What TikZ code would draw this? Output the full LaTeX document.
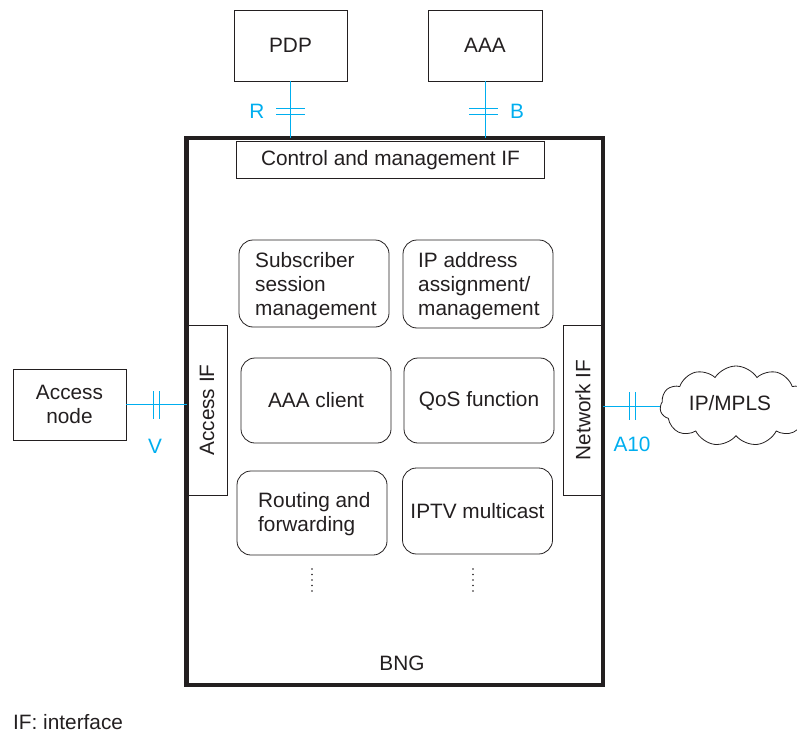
\documentclass[tikz,border=0pt]{standalone}
\usepackage{fontspec}
\setmainfont{Liberation Sans}
\usetikzlibrary{shapes.symbols}
\definecolor{ink}{HTML}{231F20}
\definecolor{ifcyan}{HTML}{00AEEF}
\begin{document}
\begin{tikzpicture}[x=1pt,y=-1pt,
  font=\fontsize{20.8}{24}\selectfont,
  box/.style={draw=ink,line width=0.8pt,inner sep=0pt,outer sep=0pt,text=ink,align=center},
  fbox/.style={box,rounded corners=14pt,minimum width=150pt,minimum height=86pt},
  ftext/.style={text=ink,align=left,anchor=west,inner sep=0pt},
  link/.style={draw=ifcyan,line width=0.9pt},
  lab/.style={text=ifcyan}]
\useasboundingbox (0,0) rectangle (797,733);
% external boxes
\node[box,minimum width=113pt,minimum height=71pt] (pdp) at (290.5,45.5) {PDP};
\node[box,minimum width=114pt,minimum height=71pt] (aaa) at (485,45.5) {AAA};
\node[box,minimum width=113pt,minimum height=71pt] (an) at (69.5,404.5) {Access\\node};
\node[cloud,draw=ink,line width=0.8pt,cloud puffs=11,cloud puff arc=115,aspect=1.9,
  minimum width=152pt,minimum height=80pt,inner sep=0pt] (cloud) at (736,406) {};
\node[text=ink] (mpls) at (730,403) {IP/MPLS};
% interface boxes
\node[box,minimum width=308pt,minimum height=37pt] (cm) at (390.5,160) {Control and management IF};
\node[box,minimum width=40pt,minimum height=170pt] (aif) at (207,410) {};
\node[rotate=90,text=ink] at (aif.center) {Access IF};
\node[box,minimum width=40pt,minimum height=170pt] (nif) at (583,410) {};
\node[rotate=90,text=ink] at (nif.center) {Network IF};
% BNG frame
\node[draw=ink,line width=4.5pt,inner sep=0pt,outer sep=0pt,
  minimum width=416.5pt,minimum height=547pt] (bng) at (394.75,411.5) {};
\node[text=ink] (bnglab) at (402,663) {BNG};
% function boxes
\node[fbox,minimum height=87pt] (sub) at (314,283.5) {};
\node[ftext] at (255,286) {Subscriber\\session\\management};
\node[fbox,minimum height=88pt] (ipa) at (478,284) {};
\node[ftext] at (418,286) {IP address\\assignment/\\management};
\node[fbox,minimum height=85pt] (aaac) at (316,400.5) {AAA client};
\node[fbox,minimum height=85pt] (qos) at (479,400.5) {QoS function};
\node[fbox,minimum height=84pt] (rtf) at (312,513) {};
\node[ftext] at (258,514) {Routing and\\forwarding};
\node[fbox,minimum height=86pt] (iptv) at (477.5,511) {IPTV multicast};
% dots
\foreach \x in {312,473}{
  \foreach \y in {569,574.5,580,585.5,591}{
    \fill[ink] (\x,\y) circle (0.9pt);
  }
}
% R reference point
\coordinate (rtop) at (pdp.south);
\coordinate (rbot) at (pdp.south |- bng.north);
\draw[link] (rtop) -- (rbot);
\draw[link] (276,108) -- (305,108) (276,114) -- (305,114);
\node[lab] (rlab) at (257,111) {R};
% B reference point
\coordinate (btop) at (aaa.south);
\coordinate (bbot) at (aaa.south |- bng.north);
\draw[link] (btop) -- (bbot);
\draw[link] (469,108) -- (498,108) (469,114) -- (498,114);
\node[lab] (blab) at (517,111) {B};
% V reference point
\coordinate (vend) at (bng.west |- an.east);
\draw[link] (an.east) -- (vend);
\draw[link] (153,391) -- (153,419) (159,391) -- (159,419);
\node[lab] (vlab) at (155,446) {V};
% A10 reference point
\coordinate (a10s) at (bng.east |- cloud.west);
\draw[link] (a10s) -- (cloud.west);
\draw[link] (629,392) -- (629,420) (635,392) -- (635,420);
\node[lab] (a10lab) at (632,444) {A10};
% legend
\node[text=ink,anchor=west,inner sep=0pt] (leg) at (13,722) {IF: interface};
\end{tikzpicture}
\end{document}
